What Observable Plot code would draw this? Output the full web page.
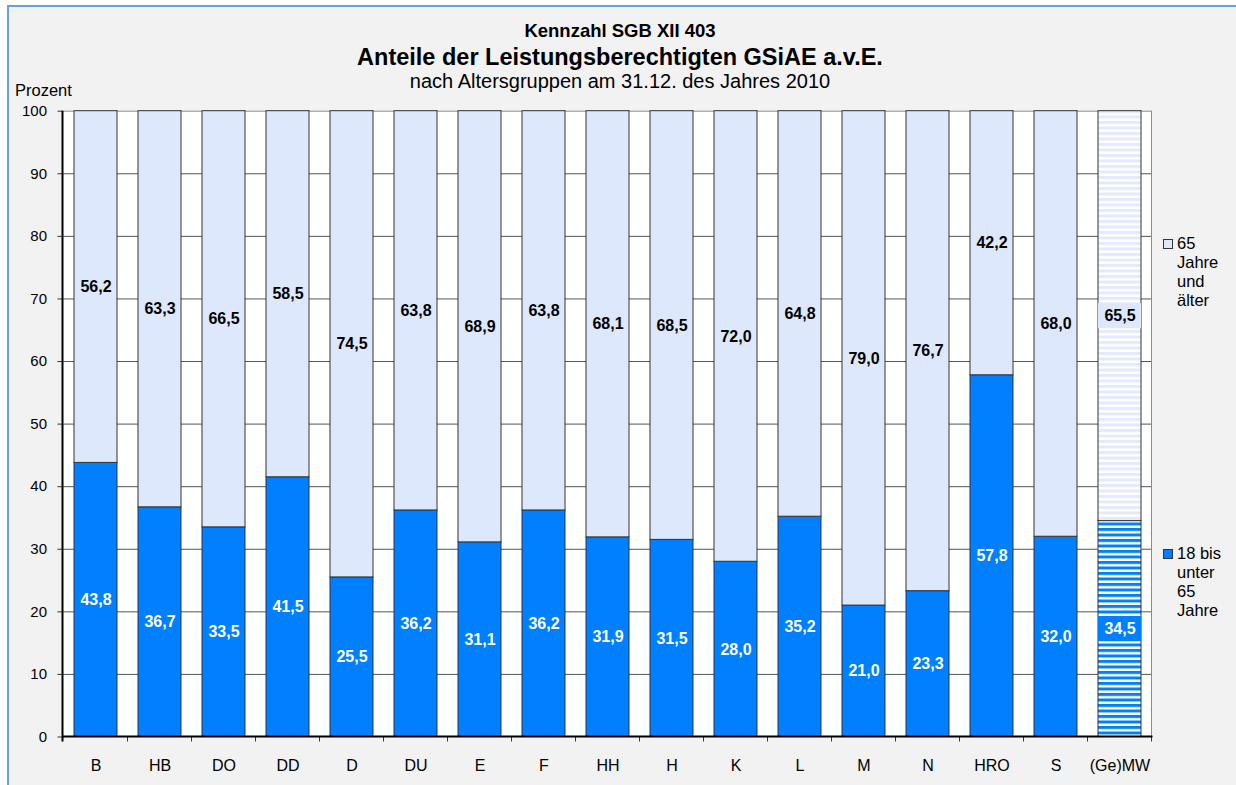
<!DOCTYPE html>
<html lang="de">
<head>
<meta charset="utf-8">
<title>Kennzahl SGB XII 403</title>
<script src="https://cdn.jsdelivr.net/npm/d3@7"></script>
<script src="https://cdn.jsdelivr.net/npm/@observablehq/plot@0.6"></script>
<style>
  html, body { margin: 0; padding: 0; background: #ffffff; }
  body { width: 1236px; height: 785px; position: relative; overflow: hidden;
         font-family: "Liberation Sans", Arial, sans-serif; color: #000; }
  #frame { position: absolute; left: 7px; top: 5px; width: 1240px; height: 790px;
           background: #f2f2f2; border-left: 2px solid #62a0ea; border-top: 2px solid #62a0ea; }
  #chart { position: absolute; left: 0; top: 0; }
  .t { position: absolute; left: 0; width: 1240px; text-align: center; white-space: nowrap; }
  #t1 { top: 20px; font-size: 18.5px; line-height: 22px; font-weight: bold; }
  #t2 { top: 43px; font-size: 23.5px; line-height: 28px; font-weight: bold; }
  #t3 { top: 69px; font-size: 20px; line-height: 24px; }
  #unit { position: absolute; left: 15px; top: 80px; font-size: 16.5px; line-height: 20px; }
  .leg { position: absolute; left: 1177px; font-size: 16.5px; line-height: 19px; }
  .sw { position: absolute; left: 1163px; width: 8px; height: 8px; border: 1px solid #333; }
</style>
</head>
<body>
<div id="frame"></div>
<div id="chart"></div>
<div class="t" id="t1">Kennzahl SGB XII 403</div>
<div class="t" id="t2">Anteile der Leistungsberechtigten GSiAE a.v.E.</div>
<div class="t" id="t3">nach Altersgruppen am 31.12. des Jahres 2010</div>
<div id="unit">Prozent</div>
<div id="legend"></div>
<script>
// Cities and the (weighted) mean
const categories = ["B", "HB", "DO", "DD", "D", "DU", "E", "F", "HH", "H", "K", "L", "M", "N", "HRO", "S", "(Ge)MW"];
const averageCategory = "(Ge)MW";

// Share of recipients by age group, in percent
const under65 = [43.8, 36.7, 33.5, 41.5, 25.5, 36.2, 31.1, 36.2, 31.9, 31.5, 28.0, 35.2, 21.0, 23.3, 57.8, 32.0, 34.5];
const over65  = [56.2, 63.3, 66.5, 58.5, 74.5, 63.8, 68.9, 63.8, 68.1, 68.5, 72.0, 64.8, 79.0, 76.7, 42.2, 68.0, 65.5];

const groupNames = ["18 bis unter 65 Jahre", "65 Jahre und älter"];
const legendLines = [["65", "Jahre", "und", "älter"], ["18 bis", "unter", "65", "Jahre"]];
const yTicks = [0, 10, 20, 30, 40, 50, 60, 70, 80, 90, 100];

const colors = {[groupNames[0]]: "#0080ff", [groupNames[1]]: "#dde8fc"};
const patterns = {[groupNames[0]]: "url(#stripeBlue)", [groupNames[1]]: "url(#stripeLight)"};
const labelColors = {[groupNames[0]]: "#ffffff", [groupNames[1]]: "#000000"};

const fmt = v => d3.format(".1f")(v).replace(".", ",");

// long format, bottom segment first so it stacks from zero
const rows = [];
categories.forEach((cat, i) => {
  rows.push({cat, group: groupNames[0], value: under65[i], mid: under65[i] / 2});
  rows.push({cat, group: groupNames[1], value: over65[i], mid: under65[i] + over65[i] / 2});
});
const averageRows = rows.filter(d => d.cat === averageCategory);

// hatch patterns used by the mean bar
function patternDefs() {
  return () => {
    const defs = d3.create("svg:defs");
    const add = (id, color) => {
      const p = defs.append("pattern").attr("id", id).attr("patternUnits", "userSpaceOnUse")
        .attr("width", 10).attr("height", 5.5);
      p.append("rect").attr("width", 10).attr("height", 5.5).attr("fill", "#ffffff");
      p.append("rect").attr("width", 10).attr("height", 3).attr("fill", color);
    };
    add("stripeBlue", "#0080ff");
    add("stripeLight", "#e2eafc");
    return defs.node();
  };
}

// axis lines, right border and category separator ticks
function axisLines() {
  return (index, {x, y}, values, dims) => {
    const g = d3.create("svg:g").attr("fill", "none");
    const left = dims.marginLeft;
    const right = dims.width - dims.marginRight;
    const top = y(100), bottom = y(0);
    const step = x.step ? x.step() : (right - left) / categories.length;
    const bw = x.bandwidth ? x.bandwidth() : 0;
    g.append("line").attr("x1", right).attr("x2", right).attr("y1", top).attr("y2", bottom)
      .attr("stroke", "#8c8c8c");
    categories.forEach(c => {
      const bx = x(c) + bw / 2 + step / 2;
      g.append("line").attr("x1", bx).attr("x2", bx).attr("y1", bottom).attr("y2", bottom + 5)
        .attr("stroke", "#333");
    });
    g.append("line").attr("x1", left).attr("x2", left).attr("y1", top).attr("y2", bottom + 5)
      .attr("stroke", "#000").attr("stroke-width", 2);
    g.append("line").attr("x1", left).attr("x2", right + 1).attr("y1", bottom).attr("y2", bottom)
      .attr("stroke", "#000").attr("stroke-width", 2);
    return g.node();
  };
}

const chart = Plot.plot({
  width: 1236,
  height: 785,
  marginLeft: 62.5,
  marginRight: 84.5,
  marginTop: 110.7,
  marginBottom: 48.5,
  style: {background: "transparent", fontFamily: "'Liberation Sans', Arial, sans-serif", color: "#000", overflow: "visible"},
  x: {domain: categories, paddingInner: 0.33, paddingOuter: 0.165, label: null},
  y: {domain: [0, 100], label: null},
  color: {type: "identity"},
  marks: [
    patternDefs(),
    Plot.frame({fill: "#ffffff", stroke: "none"}),
    Plot.ruleY(yTicks.filter(t => t > 0 && t < 100), {stroke: "#555555", strokeWidth: 1}),
    Plot.ruleY([100], {stroke: "#8c8c8c", strokeWidth: 1}),
    Plot.barY(rows, Plot.stackY({
      x: "cat",
      y: "value",
      fill: d => d.cat === averageCategory ? patterns[d.group] : colors[d.group],
      stroke: "#333333",
      strokeWidth: 1
    })),
    // solid boxes behind the mean bar's value labels
    Plot.barY(averageRows, {
      x: "cat",
      y1: d => d.mid - 2,
      y2: d => d.mid + 2,
      fill: d => colors[d.group]
    }),
    Plot.text(rows, {
      x: "cat",
      y: "mid",
      text: d => fmt(d.value),
      fill: d => labelColors[d.group],
      fontSize: 16,
      fontWeight: "bold"
    }),
    Plot.axisY({ticks: yTicks, tickSize: 5, tickPadding: 11, fontSize: 15, stroke: "#333", label: null}),
    Plot.axisX({tickSize: 0, tickPadding: 23, fontSize: 16, label: null}),
    axisLines()
  ]
});
document.getElementById("chart").appendChild(chart);

// legend: swatch plus wrapped label
const legend = document.getElementById("legend");
const legendTops = [239, 549];
[groupNames[1], groupNames[0]].forEach((g, i) => {
  const sw = document.createElement("div");
  sw.className = "sw";
  sw.style.top = legendTops[i] + "px";
  sw.style.background = colors[g];
  legend.appendChild(sw);
  const txt = document.createElement("div");
  txt.className = "leg";
  txt.style.top = (legendTops[i] - 5) + "px";
  txt.innerHTML = legendLines[i].join("<br>");
  legend.appendChild(txt);
});
</script>
</body>
</html>
